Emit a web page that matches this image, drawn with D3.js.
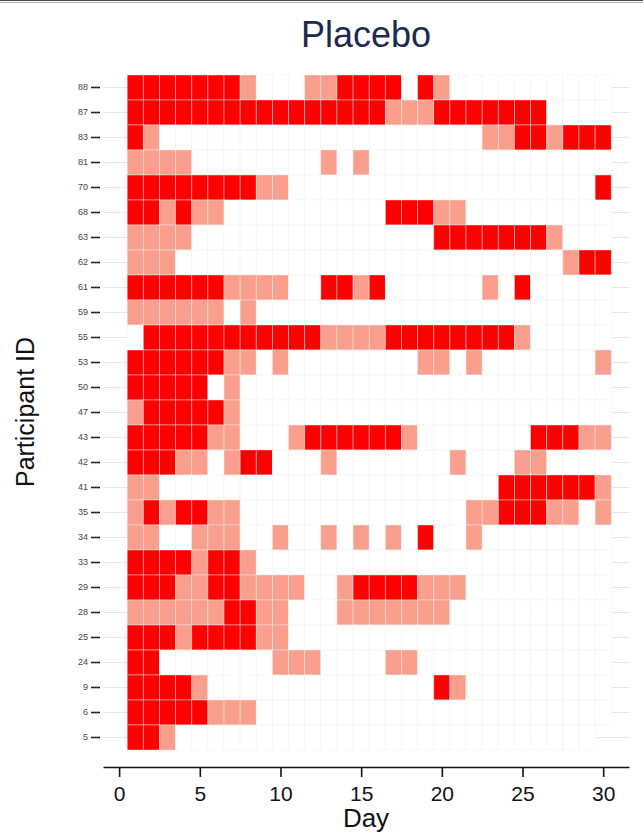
<!DOCTYPE html>
<meta charset="utf-8">
<style>
  body { margin: 0; background: #fff; }
  text { font-family: "Liberation Sans", Arial, Helvetica, sans-serif; }
  .ylab text { font-size: 9px; fill: #444; }
</style>
<body>
<script src="https://d3js.org/d3.v7.min.js"></script>
<script>

var width = 643,
    height = 834;

// participants, top to bottom
var participants = ["88","87","83","81","70","68","63","62","61","59","55","53","50","47",
                    "43","42","41","35","34","33","29","28","25","24","9","6","5"];

var days = [1,2,3,4,5,6,7,8,9,10,11,12,13,14,15,16,17,18,19,20,21,22,23,24,25,26,27,28,29,30];

var xTicks = [0,5,10,15,20,25,30];

// last day with a record for each participant
var lastDay = [30,30,30,30,30,30,30,30,30,30,30,30,30,30,
               30,30,30,30,30,30,30,30,30,30,30,30,29];

// runs of days [from, to], same order as participants
var severeRuns = [
  [[1,7],[14,17],[19,19]],
  [[1,16],[20,26]],
  [[1,1],[25,26],[28,30]],
  [],
  [[1,8],[30,30]],
  [[1,2],[4,4],[17,19]],
  [[20,26]],
  [[29,30]],
  [[1,6],[13,14],[16,16],[25,25]],
  [],
  [[2,12],[17,24]],
  [[1,6]],
  [[1,5]],
  [[2,6]],
  [[1,5],[12,17],[26,28]],
  [[1,3],[8,9]],
  [[24,29]],
  [[2,2],[4,5],[24,26]],
  [[19,19]],
  [[1,4],[6,7]],
  [[1,3],[6,7],[15,18]],
  [[7,8]],
  [[1,3],[5,8]],
  [[1,2]],
  [[1,4],[20,20]],
  [[1,5]],
  [[1,2]]
];

var mildRuns = [
  [[8,8],[12,13],[20,20]],
  [[17,19]],
  [[2,2],[23,24],[27,27]],
  [[1,4],[13,13],[15,15]],
  [[9,10]],
  [[3,3],[5,6],[20,21]],
  [[1,4],[27,27]],
  [[1,3],[28,28]],
  [[7,10],[15,15],[23,23]],
  [[1,6],[8,8]],
  [[13,16],[25,25]],
  [[7,8],[10,10],[19,20],[22,22],[30,30]],
  [[7,7]],
  [[1,1],[7,7]],
  [[6,7],[11,11],[18,18],[29,30]],
  [[4,5],[7,7],[13,13],[21,21],[25,26]],
  [[1,2],[30,30]],
  [[1,1],[3,3],[6,7],[22,23],[27,28],[30,30]],
  [[1,2],[5,7],[10,10],[13,13],[15,15],[17,17],[22,22]],
  [[5,5],[8,8]],
  [[4,5],[8,11],[14,14],[19,21]],
  [[1,6],[9,10],[14,20]],
  [[4,4],[9,10]],
  [[10,12],[17,18]],
  [[5,5],[21,21]],
  [[6,8]],
  [[3,3]]
];

var fill = { none: "#ffffff", mild: "#fa9f8d", severe: "#ff0000" };

function inRuns(runs, d) {
  return runs.some(function(r){ return d >= r[0] && d <= r[1]; });
}

var cells = [];
participants.forEach(function(p, i){
  days.forEach(function(d){
    if (d > lastDay[i]) return;
    var s = inRuns(severeRuns[i], d) ? "severe" : inRuns(mildRuns[i], d) ? "mild" : "none";
    cells.push({ id: p, day: d, status: s });
  });
});

var svg = d3.select("body").append("svg")
  .attr("width", width)
  .attr("height", height);

// frame line at the very top
svg.append("line").attr("x1",0).attr("x2",width).attr("y1",0.5).attr("y2",0.5)
  .attr("stroke","#444").attr("stroke-width",1);
svg.append("line").attr("x1",0).attr("x2",width).attr("y1",2.5).attr("y2",2.5)
  .attr("stroke","#aaa").attr("stroke-width",1);

var x = d3.scaleLinear()
  .domain([-1, 31.6])
  .range([103, 629]);

var y = d3.scaleBand()
  .domain(participants)
  .range([75, 750]);

// row guide lines behind the tiles
svg.append("g")
  .selectAll("line")
  .data(participants)
  .enter().append("line")
    .attr("x1", x(-1)).attr("x2", x(31.6))
    .attr("y1", function(d){ return y(d) + y.bandwidth() / 2; })
    .attr("y2", function(d){ return y(d) + y.bandwidth() / 2; })
    .attr("stroke", "#e2e6ea")
    .attr("stroke-width", 1);

svg.append("g")
  .selectAll("rect")
  .data(cells)
  .enter().append("rect")
    .attr("x", function(d){ return x(d.day - 0.5); })
    .attr("y", function(d){ return y(d.id); })
    .attr("width", x(1) - x(0))
    .attr("height", y.bandwidth())
    .attr("fill", function(d){ return fill[d.status]; })
    .attr("stroke", "#eeeeee")
    .attr("stroke-opacity", 0.55)
    .attr("stroke-width", 0.8);

// y axis: labels and tick marks, no domain line
var yAxis = svg.append("g")
  .attr("class", "ylab")
  .attr("transform", "translate(100,0)")
  .call(d3.axisLeft(y).tickSize(9).tickPadding(3));
yAxis.select(".domain").remove();
yAxis.selectAll(".tick line").attr("stroke", "#222").attr("stroke-width", 1.6);

// x axis
var xAxis = svg.append("g")
  .attr("transform", "translate(0,767)")
  .call(d3.axisBottom(x).tickValues(xTicks).tickSize(10).tickSizeOuter(0).tickPadding(9));
xAxis.select(".domain").attr("stroke", "#111").attr("stroke-width", 1.6);
xAxis.selectAll(".tick line").attr("stroke", "#111").attr("stroke-width", 1.6);
xAxis.selectAll(".tick text")
  .style("font-size", "21px")
  .attr("fill", "#111");

svg.append("text")
  .attr("x", x(15.3))
  .attr("y", 827)
  .attr("text-anchor", "middle")
  .style("font-size", "26px")
  .attr("fill", "#111")
  .text("Day");

svg.append("text")
  .attr("transform", "translate(34,412) rotate(-90)")
  .attr("text-anchor", "middle")
  .style("font-size", "25px")
  .attr("fill", "#111")
  .text("Participant ID");

svg.append("text")
  .attr("x", 366)
  .attr("y", 47)
  .attr("text-anchor", "middle")
  .style("font-size", "36px")
  .attr("fill", "#1d2a4d")
  .text("Placebo");

</script>
